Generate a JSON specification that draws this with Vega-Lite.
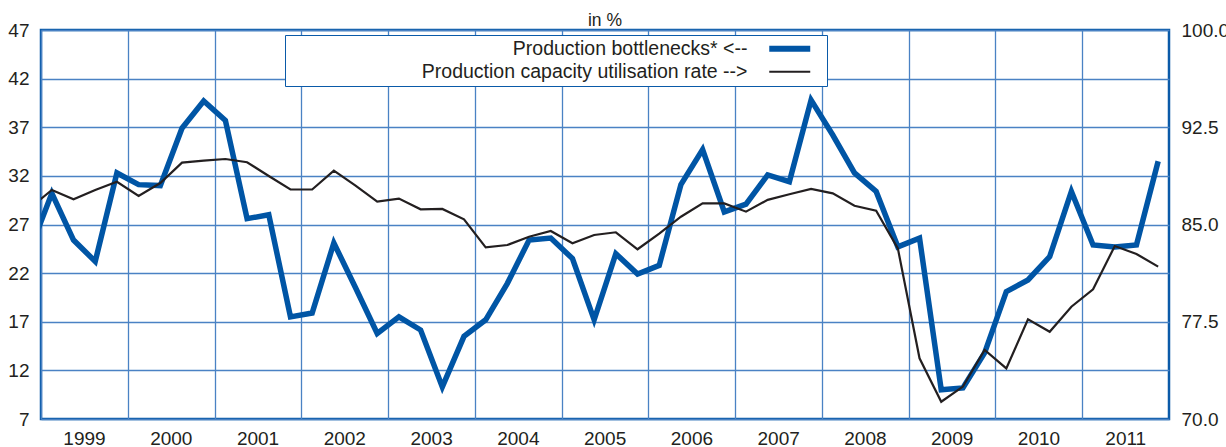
{
  "$schema": "https://vega.github.io/schema/vega-lite/v6.json",
  "width": 1128,
  "height": 389,
  "autosize": {"type": "none"},
  "padding": {"left": 41, "top": 30, "right": 57, "bottom": 28},
  "background": "white",
  "title": {"text": "in %", "fontSize": 17.5, "fontWeight": "normal", "font": "Liberation Sans", "color": "#231f20", "offset": -8, "frame": "group", "anchor": "middle"},
  "config": {
    "font": "Liberation Sans",
    "view": {"stroke": "#0a5aa8", "strokeWidth": 2.5},
    "axis": {"labelFont": "Liberation Sans", "labelFontSize": 19, "labelColor": "#231f20", "ticks": false, "domain": false, "title": null, "labelPadding": 12, "gridColor": "#4a82c4", "gridWidth": 1.3, "gridOpacity": 1}
  },
  "data": {"values": [
    {"t": 1998.875, "b": 24.4, "c": 86.3},
    {"t": 1999.125, "b": 30.2, "c": 87.66},
    {"t": 1999.375, "b": 25.4, "c": 86.94},
    {"t": 1999.625, "b": 23.2, "c": 87.66},
    {"t": 1999.875, "b": 32.3, "c": 88.3},
    {"t": 2000.125, "b": 31.1, "c": 87.2},
    {"t": 2000.375, "b": 31.0, "c": 88.2},
    {"t": 2000.625, "b": 36.9, "c": 89.77},
    {"t": 2000.875, "b": 39.7, "c": 89.92},
    {"t": 2001.125, "b": 37.7, "c": 90.05},
    {"t": 2001.375, "b": 27.6, "c": 89.8},
    {"t": 2001.625, "b": 28.0, "c": 88.74},
    {"t": 2001.875, "b": 17.5, "c": 87.7},
    {"t": 2002.125, "b": 17.9, "c": 87.7},
    {"t": 2002.375, "b": 25.1, "c": 89.15},
    {"t": 2002.625, "b": 20.5, "c": 88.0},
    {"t": 2002.875, "b": 15.8, "c": 86.76},
    {"t": 2003.125, "b": 17.5, "c": 87.0},
    {"t": 2003.375, "b": 16.15, "c": 86.17},
    {"t": 2003.625, "b": 10.3, "c": 86.2},
    {"t": 2003.875, "b": 15.5, "c": 85.4},
    {"t": 2004.125, "b": 17.2, "c": 83.24},
    {"t": 2004.375, "b": 20.95, "c": 83.42},
    {"t": 2004.625, "b": 25.4, "c": 84.06},
    {"t": 2004.875, "b": 25.6, "c": 84.5},
    {"t": 2005.125, "b": 23.5, "c": 83.55},
    {"t": 2005.375, "b": 17.2, "c": 84.19},
    {"t": 2005.625, "b": 24.0, "c": 84.4},
    {"t": 2005.875, "b": 21.9, "c": 83.09},
    {"t": 2006.125, "b": 22.8, "c": 84.3},
    {"t": 2006.375, "b": 31.1, "c": 85.6},
    {"t": 2006.625, "b": 34.7, "c": 86.63},
    {"t": 2006.875, "b": 28.3, "c": 86.63},
    {"t": 2007.125, "b": 29.1, "c": 85.99},
    {"t": 2007.375, "b": 32.1, "c": 86.9},
    {"t": 2007.625, "b": 31.4, "c": 87.33},
    {"t": 2007.875, "b": 39.8, "c": 87.74},
    {"t": 2008.125, "b": 36.2, "c": 87.4},
    {"t": 2008.375, "b": 32.3, "c": 86.45},
    {"t": 2008.625, "b": 30.4, "c": 86.06},
    {"t": 2008.875, "b": 24.7, "c": 83.16},
    {"t": 2009.125, "b": 25.6, "c": 74.68},
    {"t": 2009.375, "b": 10.0, "c": 71.33},
    {"t": 2009.625, "b": 10.2, "c": 72.5},
    {"t": 2009.875, "b": 13.8, "c": 75.32},
    {"t": 2010.125, "b": 20.1, "c": 73.9},
    {"t": 2010.375, "b": 21.3, "c": 77.69},
    {"t": 2010.625, "b": 23.7, "c": 76.73},
    {"t": 2010.875, "b": 30.4, "c": 78.66},
    {"t": 2011.125, "b": 24.9, "c": 80.0},
    {"t": 2011.375, "b": 24.7, "c": 83.34},
    {"t": 2011.625, "b": 24.9, "c": 82.73},
    {"t": 2011.875, "b": 33.5, "c": 81.75}
  ]},
  "encoding": {
    "x": {"field": "t", "type": "quantitative",
      "scale": {"domain": [1999, 2012], "nice": false, "zero": false},
      "axis": {"values": [1999, 2000, 2001, 2002, 2003, 2004, 2005, 2006, 2007, 2008, 2009, 2010, 2011], "format": "d", "labelOffset": 43, "grid": true, "labelFlush": false, "labelOverlap": false, "labelPadding": 10}}
  },
  "layer": [
    {
      "mark": {"type": "line", "strokeWidth": 5.5, "clip": true, "strokeJoin": "miter"},
      "encoding": {
        "y": {"field": "b", "type": "quantitative",
          "scale": {"domain": [7, 47], "nice": false, "zero": false},
          "axis": {"orient": "left", "values": [7, 12, 17, 22, 27, 32, 37, 42, 47], "grid": true}},
        "stroke": {"datum": "Production bottlenecks* <--",
          "scale": {"domain": ["Production bottlenecks* <--", "Production capacity utilisation rate -->"], "range": ["#0055a5", "#231f20"]},
          "legend": {"orient": "none", "legendX": 244, "legendY": 5, "title": null, "symbolType": "M-4,0H4", "symbolSize": 105, "symbolStrokeWidth": 2, "symbolFillColor": "transparent", "symbolOffset": 491, "labelAlign": "right", "labelOffset": -52, "labelFontSize": 19.5, "labelColor": "#231f20", "labelLimit": 700, "rowPadding": 0, "padding": 4, "strokeColor": "#0a5aa8", "fillColor": "white",
            "encode": {"symbols": {"update": {"strokeWidth": {"signal": "(datum.value === 'Production bottlenecks* <--' ? 6 : 2.2)"}, "fill": {"value": "transparent"}}}}}
        }
      }
    },
    {
      "mark": {"type": "line", "strokeWidth": 2.2, "clip": true},
      "encoding": {
        "y": {"field": "c", "type": "quantitative",
          "scale": {"domain": [70, 100], "nice": false, "zero": false},
          "axis": {"orient": "right", "values": [70, 77.5, 85, 92.5, 100], "format": ".1f", "grid": false, "labelPadding": 12}},
        "stroke": {"datum": "Production capacity utilisation rate -->"}
      }
    }
  ],
  "resolve": {"scale": {"y": "independent"}}
}
